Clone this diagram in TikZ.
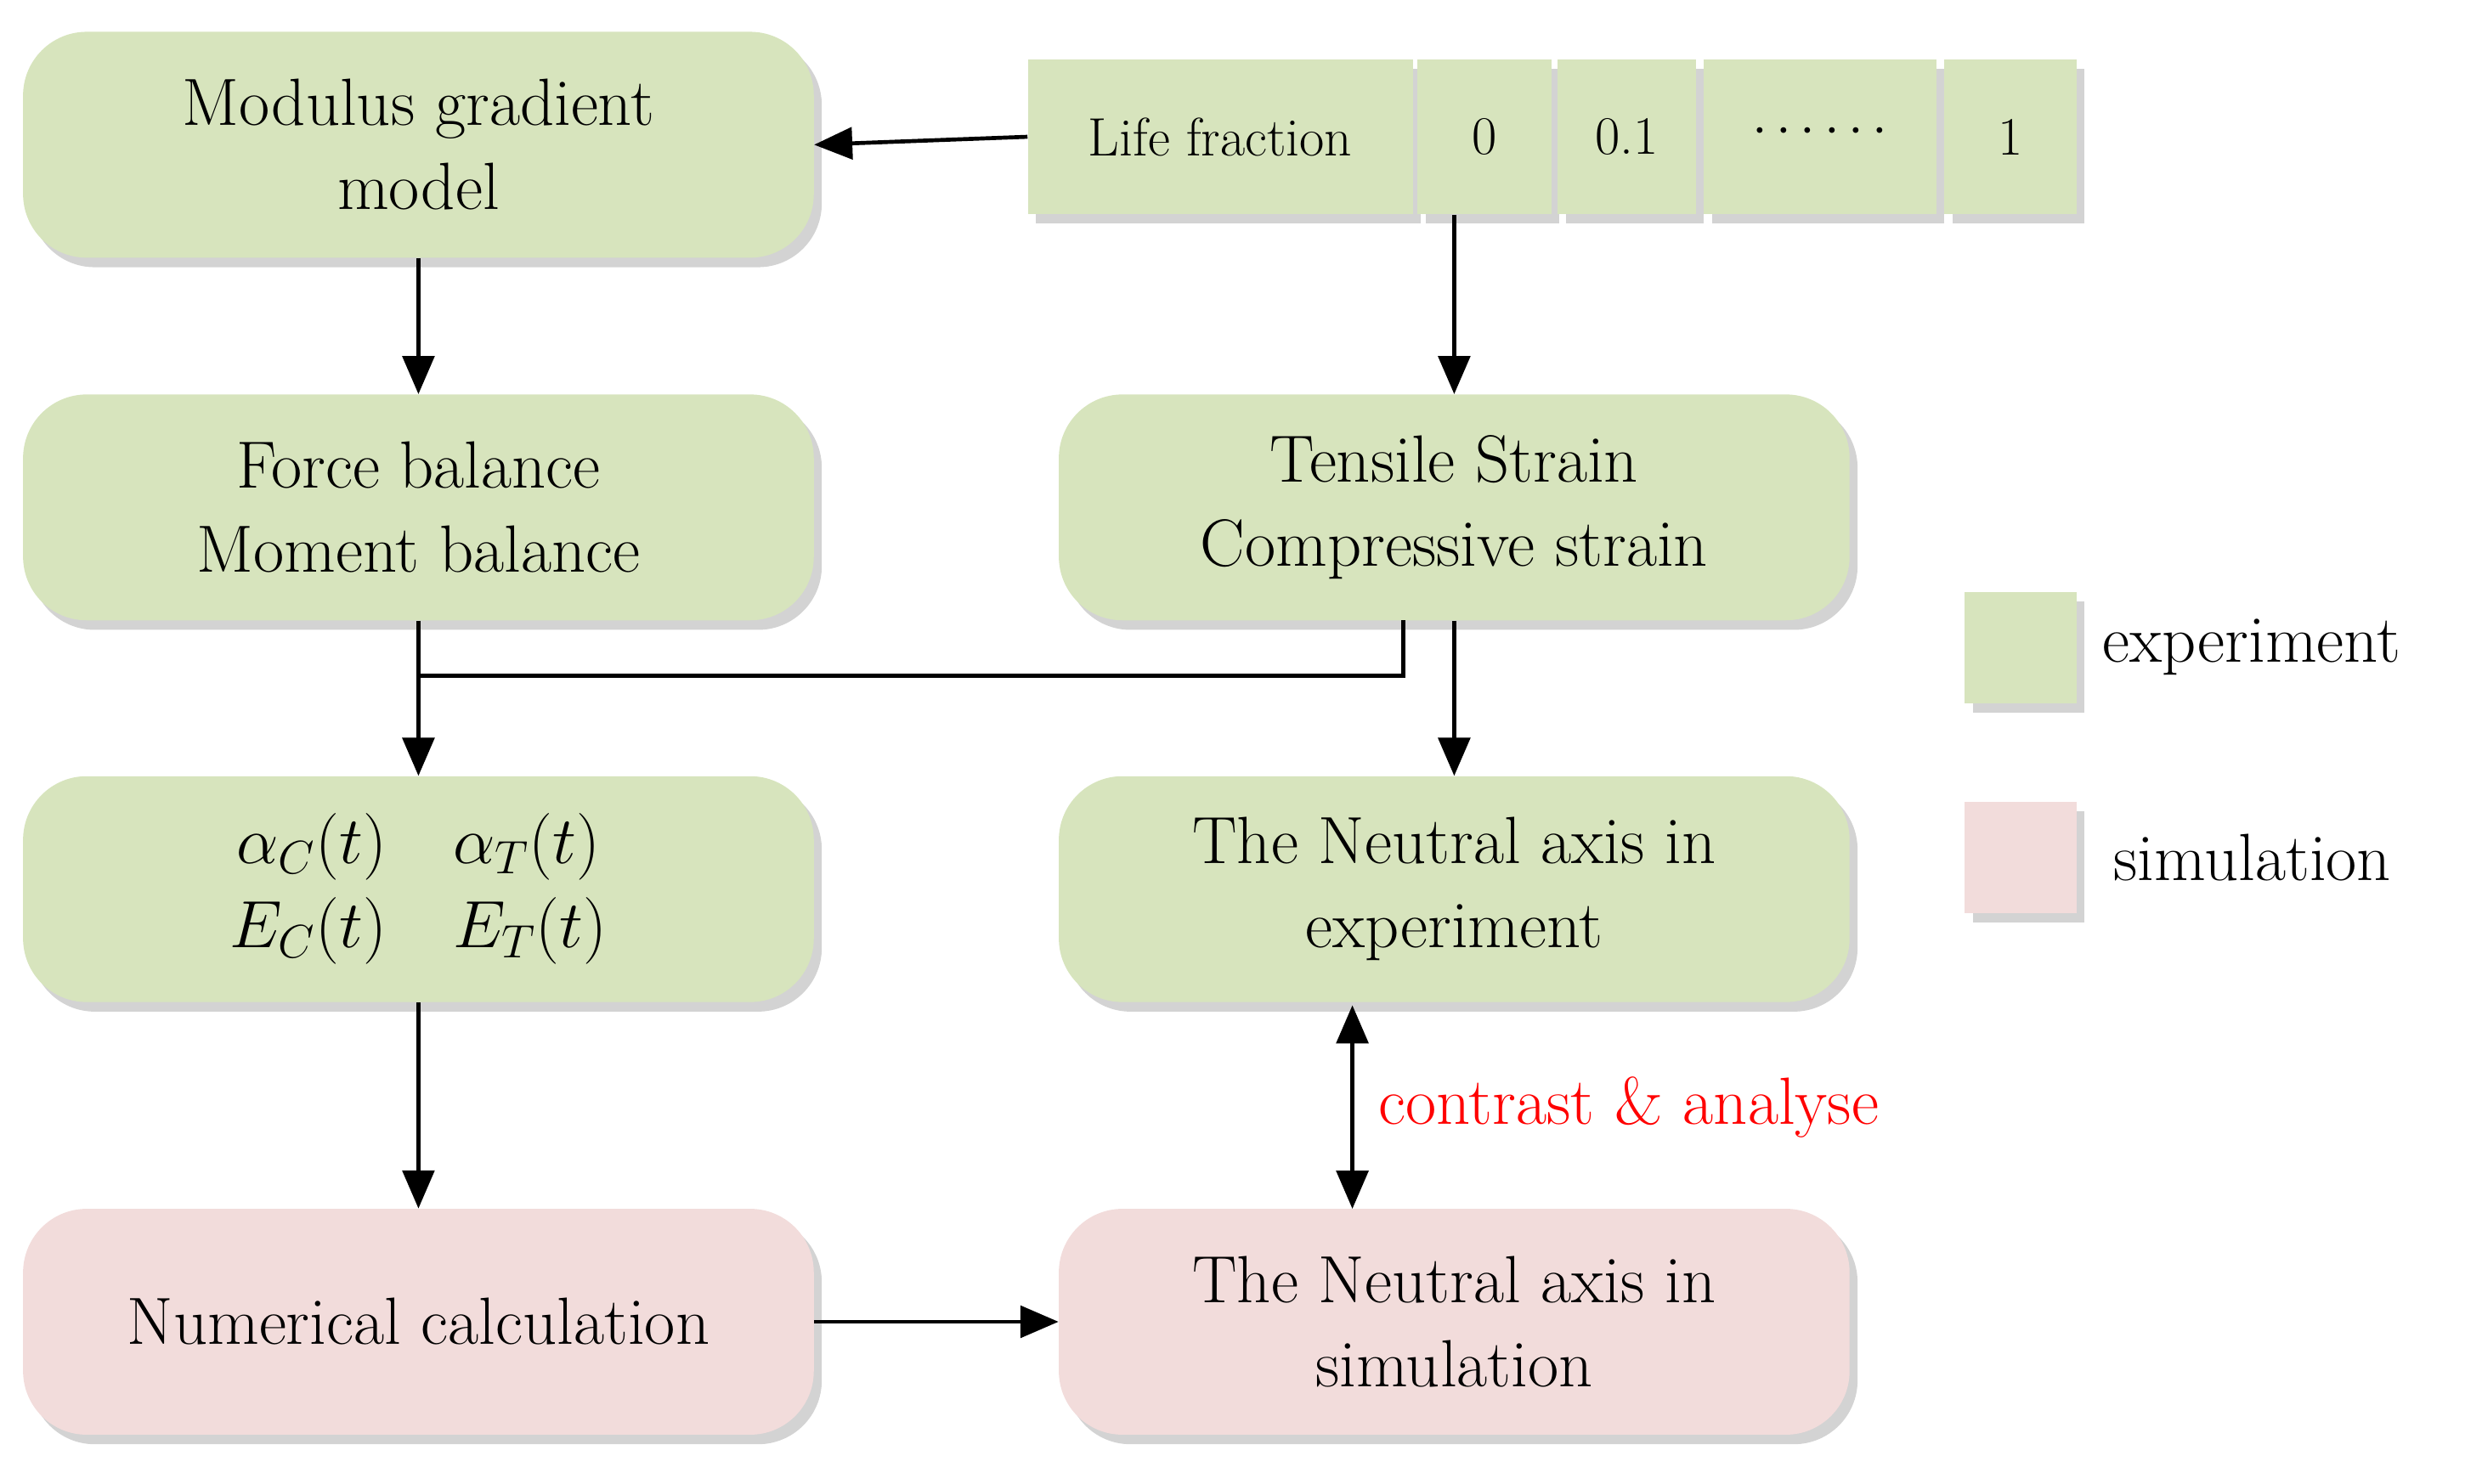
\RequirePackage{fix-cm}
\documentclass[tikz,border=0pt]{standalone}
\usepackage{fontspec}
\usetikzlibrary{shadows,arrows.meta}
\definecolor{expgreen}{HTML}{D7E4BD}
\definecolor{simpink}{HTML}{F2DCDB}
\tikzset{
  box/.style={rounded corners=40pt, minimum width=497pt, minimum height=142pt,
    align=center, font=\fontsize{42}{53}\selectfont,
    drop shadow={shadow xshift=5pt, shadow yshift=-6pt, opacity=0.35}},
  exp/.style={box, fill=expgreen},
  sim/.style={box, fill=simpink},
  cell/.style={fill=expgreen, minimum height=97pt, inner sep=0pt,
    font=\fontsize{34}{40}\selectfont,
    drop shadow={shadow xshift=5pt, shadow yshift=-6pt, opacity=0.35}},
  key/.style={fill=expgreen, minimum width=70pt, minimum height=70pt,
    drop shadow={shadow xshift=5pt, shadow yshift=-6pt, opacity=0.35}},
  arr/.style={-{Triangle[length=24pt,width=20pt]}, line width=2.5pt},
  lab/.style={font=\fontsize{42}{46}\selectfont, anchor=west}
}
\begin{document}
\begin{tikzpicture}[x=1pt,y=-1pt]
  \useasboundingbox (0,0) rectangle (1560,933);
  % left column
  \node[exp](modulus) at (263,91){Modulus gradient\\model};
  \node[exp](balance) at (263,319){Force balance\\Moment balance};
  \node[exp](param) at (263,559){$\alpha_{C}(t)\quad\alpha_{T}(t)$\\$E_{C}(t)\quad E_{T}(t)$};
  \node[sim](numeric) at (263,831){Numerical calculation};
  % right column
  \node[exp](strain) at (914,319){Tensile Strain\\Compressive strain};
  \node[exp](axisexp) at (914,559){The Neutral axis in\\experiment};
  \node[sim](axissim) at (914,831){The Neutral axis in\\simulation};
  % life fraction row
  \node[cell, minimum width=242pt](life) at (767,86){Life fraction};
  \node[cell, minimum width=84pt](f0) at (933,86){0};
  \node[cell, minimum width=87pt](f1) at (1022.5,86){0.1};
  \node[cell, minimum width=146pt](fdots) at (1144,86){\raisebox{6pt}{$\cdots\cdots$}};
  \node[cell, minimum width=83pt](fend) at (1263.5,86){1};
  % legend
  \node[key](keyexp) at (1270,407){};
  \node[key, fill=simpink](keysim) at (1270,539){};
  \node[lab] at (1318,407){experiment};
  \node[lab] at (1325,539){simulation};
  % connectors
  \draw[arr] (life.west) -- (modulus.east);
  \draw[arr] (modulus) -- (balance);
  \draw[arr] (914,135) -- (strain.north);
  \draw[arr] (balance) -- (param);
  \draw[line width=2.5pt] (882,390) |- (263,425);
  \draw[arr] (strain) -- (axisexp);
  \draw[arr] (param) -- (numeric);
  \draw[arr] (numeric) -- (axissim);
  \draw[arr, {Triangle[length=24pt,width=20pt]}-{Triangle[length=24pt,width=20pt]}]
    (850,632) -- node[right, xshift=12pt, text=red, font=\fontsize{42}{46}\selectfont]{contrast \& analyse} (850,760);
\end{tikzpicture}
\end{document}
